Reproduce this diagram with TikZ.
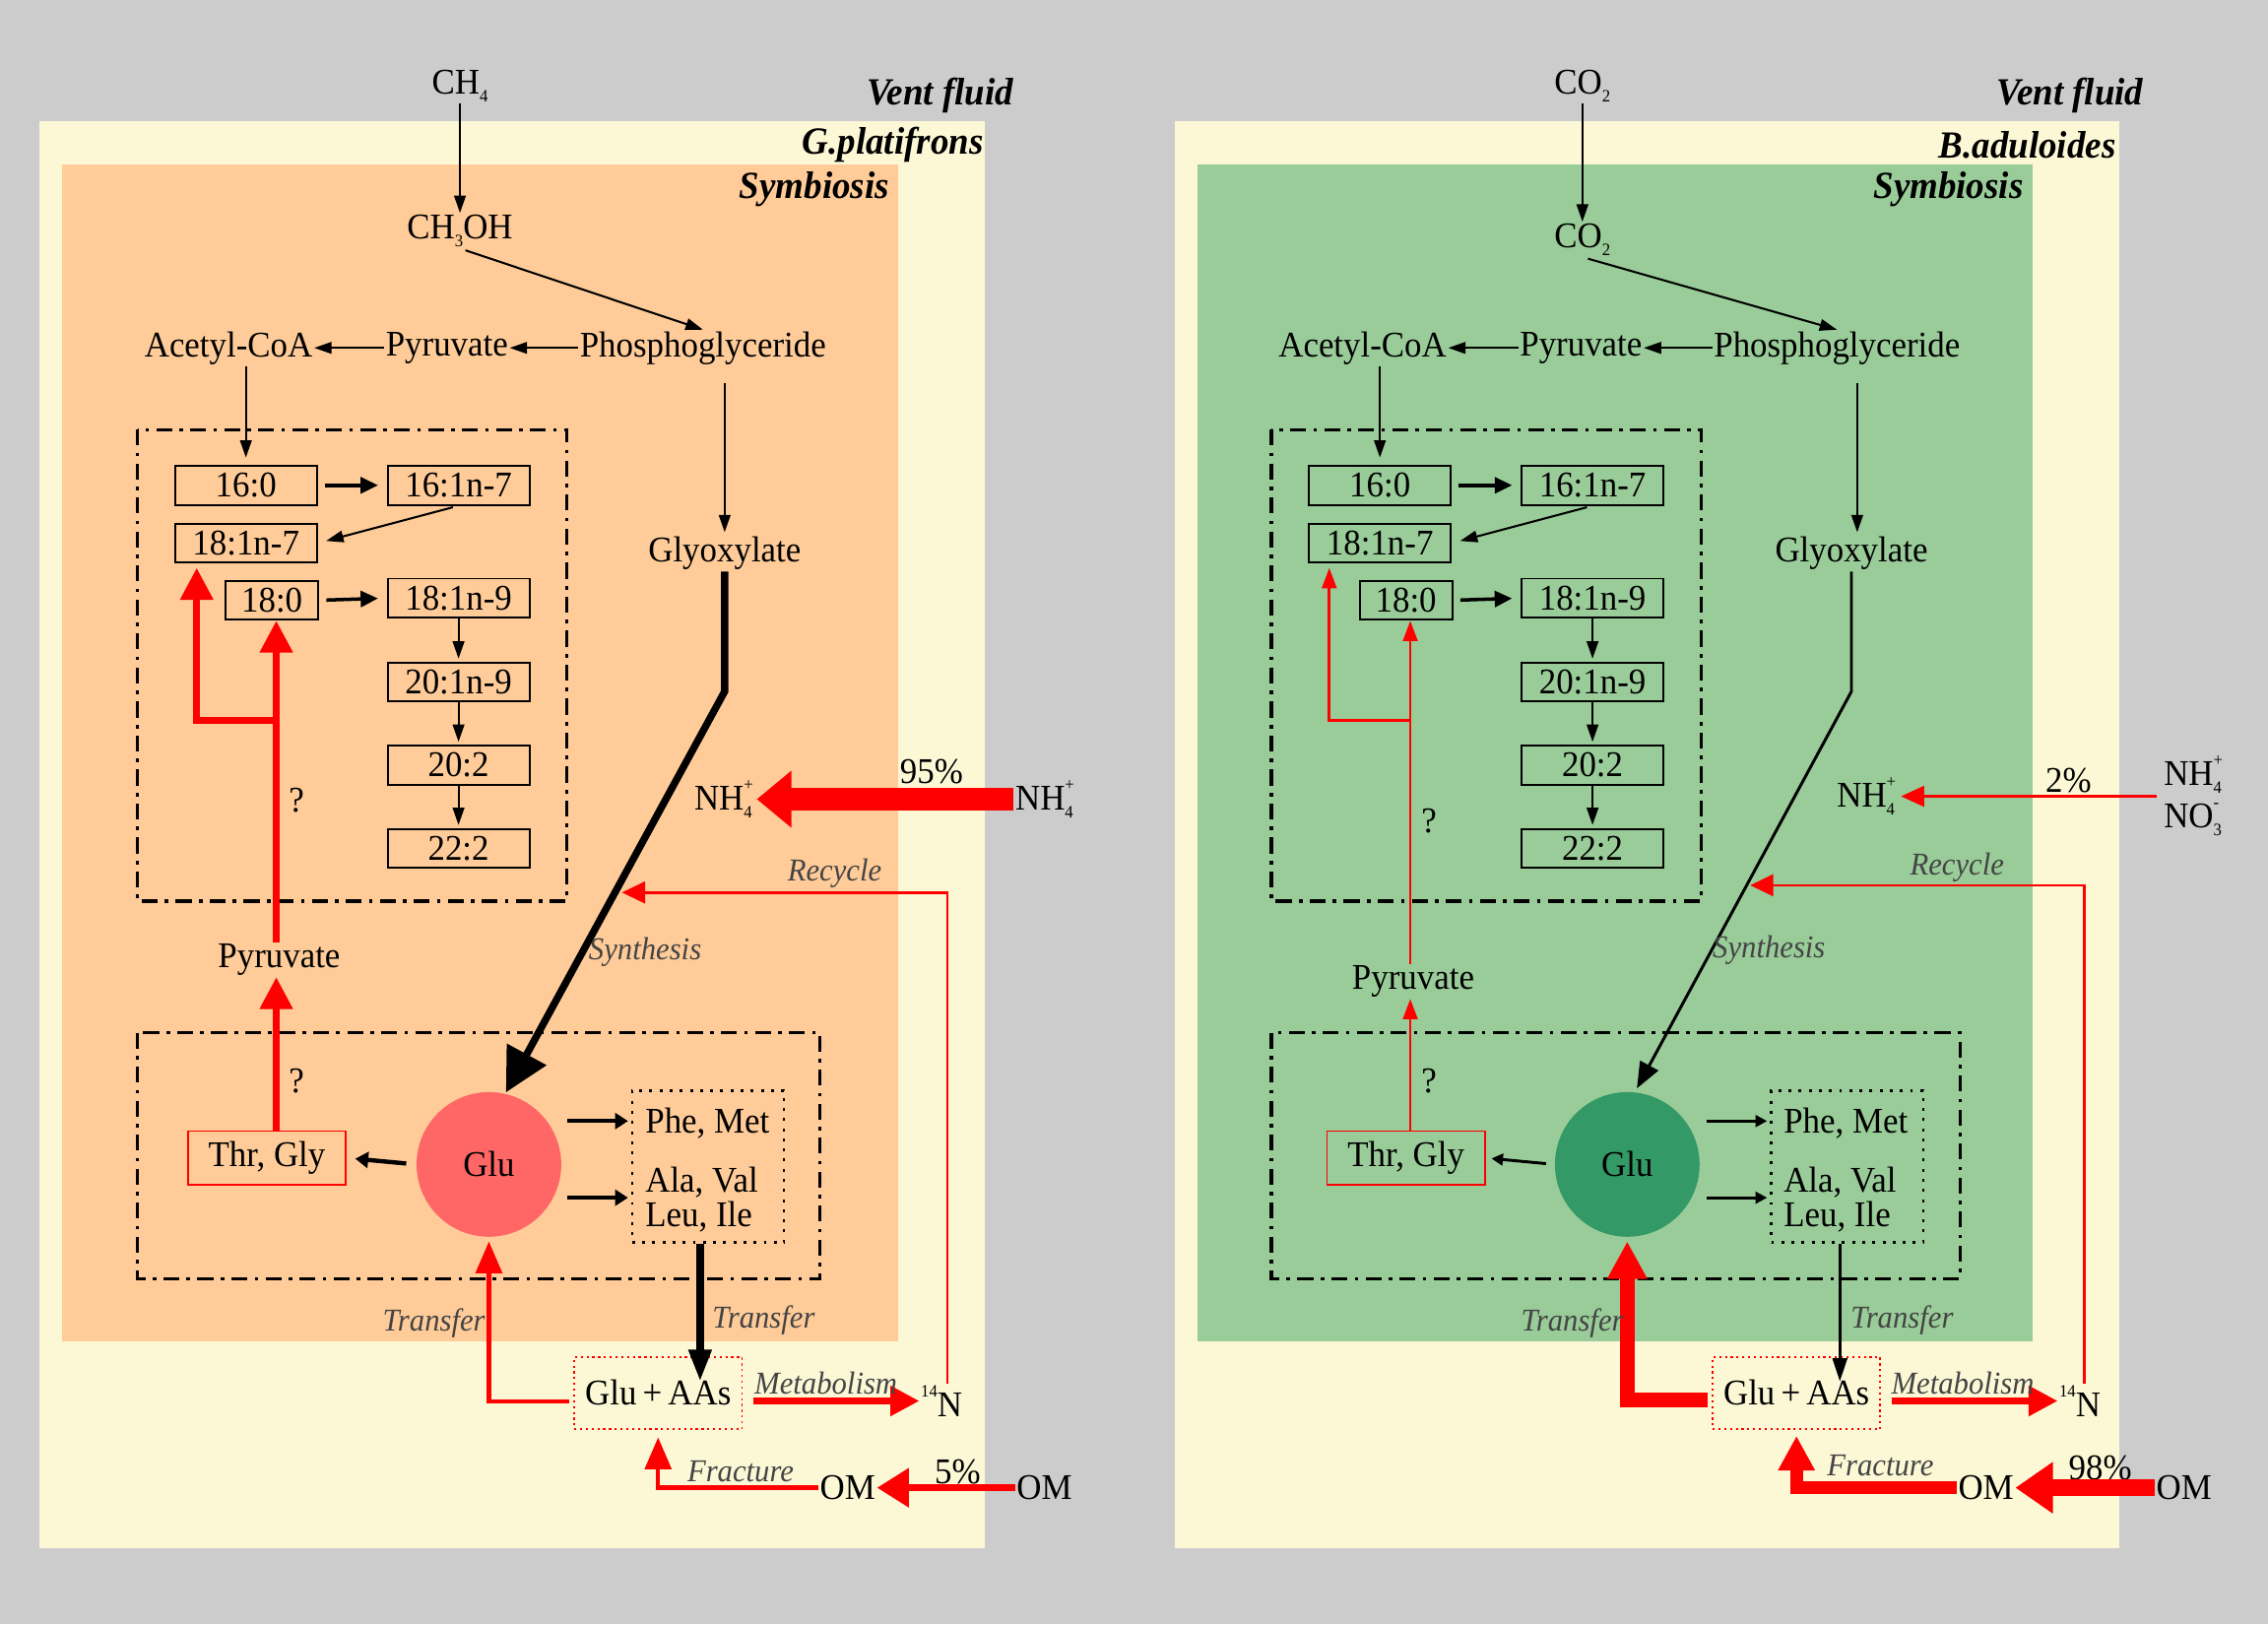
\documentclass[tikz,border=0pt]{standalone}
\usepackage{fontspec}
\setmainfont{Liberation Serif}[FakeStretch=0.95]
\usetikzlibrary{arrows.meta,calc}
\definecolor{bggray}{HTML}{CCCCCC}
\definecolor{cream}{HTML}{FCF8D6}
\definecolor{peach}{HTML}{FFCC99}
\definecolor{lgreen}{HTML}{99CC99}
\definecolor{glured}{HTML}{FF6666}
\definecolor{glugreen}{HTML}{339966}
\definecolor{lblgray}{HTML}{444444}
\definecolor{pure}{HTML}{FF0000}
\newcommand\lsub[1]{\raisebox{-0.22em}{\fontsize{12}{12}\selectfont #1}}
\newcommand\lsup[1]{\raisebox{0.55em}{\fontsize{12}{12}\selectfont #1}}
\newcommand\nhfour{NH\rlap{\lsup{+}}\lsub{4}}
\tikzset{
  tfont/.style={font=\fontsize{25}{27}\selectfont, inner sep=1pt},
  txt/.style={tfont, yshift=-2.5pt},
  lbl/.style={font=\fontsize{22}{24}\selectfont\itshape, text=lblgray, inner sep=0pt},
  ttl/.style={font=\fontsize{26.5}{28}\selectfont\bfseries\itshape, anchor=east, inner sep=0pt},
  fabox/.style={draw, line width=1.3pt, minimum width=98pt, minimum height=27pt, inner sep=0pt, tfont},
  blk/.style={line width=1.4pt, -{Triangle[length=12pt,width=8pt]}},
  blkm/.style={line width=2.4pt, -{Triangle[length=12pt,width=11pt]}},
  ddbox/.style={line width=2.2pt, dash pattern=on 11pt off 5pt on 2.5pt off 5pt},
  thr/.style={draw=pure, line width=1.2pt, minimum width=109pt, minimum height=37pt, inner sep=0pt, tfont},
  gab/.style={draw=pure, line width=1.3pt, dash pattern=on 1.5pt off 2.5pt, minimum width=116pt, minimum height=50pt, inner sep=0pt, tfont},
  aab/.style={draw, line width=1.6pt, dash pattern=on 2pt off 5pt, minimum width=105pt, minimum height=105pt},
  glu/.style={circle, minimum size=100pt, inner sep=0pt, tfont},
}
\begin{document}
\begin{tikzpicture}[x=1pt,y=-1pt]
\fill[bggray] (0,0) rectangle (1568,1123);
\useasboundingbox (0,0) rectangle (1568,1123);
%================ LEFT PANEL =================
\fill[cream] (27,84) rectangle (681,1070);
\fill[peach] (43,114) rectangle (621,927);
\node[ttl] (vf1) at (701,66) {Vent fluid};
\node[ttl] (sp1) at (680,100) {G.platifrons};
\node[ttl] (sy1) at (615,131) {Symbiosis};
\node[txt] (ch4) at (318,57) {CH\lsub{4}};
\node[txt] (ch3oh) at (318,157) {CH\lsub{3}OH};
\node[txt] (acl) at (158,238) {Acetyl-CoA};
\node[txt] (pyl) at (309,238) {Pyruvate};
\node[txt] (phl) at (486,238) {Phosphoglyceride};
\node[txt] (gyl) at (501,380) {Glyoxylate};
\draw[blk] (ch4) -- (ch3oh);
\draw[blk, shorten <=4pt] (ch3oh.south) -- (phl.north);
\draw[blk] (pyl.west) -- (acl.east);
\draw[blk] (phl.west) -- (pyl.east);
\draw[ddbox] (95,297) rectangle (392,623);
\node[fabox] (b160a) at (170,335.5) {16:0};
\node[fabox] (b161a) at (317,335.5) {16:1n-7};
\node[fabox] (b187a) at (170,375.5) {18:1n-7};
\node[fabox, minimum width=64pt] (b180a) at (188,415) {18:0};
\node[fabox] (b189a) at (317,413.5) {18:1n-9};
\node[fabox] (b201a) at (317,471.5) {20:1n-9};
\node[fabox] (b202a) at (317,529) {20:2};
\node[fabox] (b222a) at (317,586.5) {22:2};
\draw[blk, shorten >=5pt] (b160a.north |- acl.south) -- (b160a.north);
\draw[blk, shorten <=12pt, shorten >=2pt] (gyl.north |- phl.south) -- (gyl.north);
\draw[blkm, shorten <=5pt, shorten >=6pt] (b160a.east) -- (b161a.west);
\draw[blk, shorten <=4pt, shorten >=6pt] (b161a.south) -- (b187a.east);
\draw[blkm, shorten <=5pt, shorten >=6pt] (b180a.east) -- (b189a.west);
\draw[blk, shorten >=2pt] (b189a.south) -- (b201a.north);
\draw[blk, shorten >=2pt] (b201a.south) -- (b202a.north);
\draw[blk, shorten >=2pt] (b202a.south) -- (b222a.north);
% lower group
\draw[ddbox] (95,714) rectangle (567,884);
\node[glu, fill=glured] (glu1) at (338,805) {Glu};
\node[thr] (tg1) at (184.5,800.5) {Thr, Gly};
\node[aab] (aa1) at (489.5,806.5) {};
\node[txt, anchor=west] (pm1) at (445,774) {Phe, Met};
\node[txt, anchor=west] (av1) at (445,815) {Ala, Val};
\node[txt, anchor=west] (li1) at (445,839) {Leu, Ile};
\draw[line width=3pt, -{Triangle[length=9pt,width=11pt]}, shorten <=7pt, shorten >=6pt] (glu1.west) -- (tg1.east);
\draw[line width=3pt, -{Triangle[length=9pt,width=11pt]}] ($(glu1.east)+(4,-30)$) -- ($(aa1.west)+(-2,-31.5)$);
\draw[line width=3pt, -{Triangle[length=9pt,width=11pt]}] ($(glu1.east)+(4,23)$) -- ($(aa1.west)+(-2,21.5)$);
\node[txt] (pyr1) at (193,661) {Pyruvate};
\node[txt] (q1a) at (205,551) {?};
\node[txt] (q1b) at (205,745) {?};
\coordinate (br1) at (191,498);
\coordinate (br2) at (136,498);
\draw[pure, line width=4.5pt, -{Triangle[length=22pt,width=22pt]}] (br1 |- pyr1.north) -- (br1 |- b180a.south);
\draw[pure, line width=4.5pt, -{Triangle[length=22pt,width=22pt]}, shorten >=3pt] (br1) -- (br2) -- (br2 |- b187a.south);
\draw[pure, line width=4.5pt, -{Triangle[length=22pt,width=22pt]}] (br1 |- tg1.north) -- (br1 |- pyr1.south);
% synthesis
\coordinate (sb1) at (501,478);
\draw[line width=5pt, -{Triangle[length=30pt,width=30pt]}, shorten >=1pt] (gyl.south) -- (sb1) -- (glu1.77);
\node[lbl] (syn1) at (446,658) {Synthesis};
% NH4
\node[txt] (nh1) at (500,550) {\nhfour};
\node[txt] (nh1o) at (722,550) {\nhfour};
\node[txt] (p95) at (644,531) {95\%};
\draw[pure, line width=15pt, -{Triangle[length=24pt,width=38pt]}, shorten >=2pt] (nh1o.west) -- (nh1.east);
% glu+aas
\node[gab] (ga1) at (455,963) {Glu\,+\,AAs};
\node[txt] (n14a) at (651,966) {\lsup{14}N};
\node[txt] (om1) at (586,1026) {OM};
\node[txt] (om1o) at (722,1026) {OM};
\node[txt] (p5) at (662,1015) {5\%};
\coordinate (t1) at (484,955);
\draw[line width=5pt, -{Triangle[length=22pt,width=15pt]}] (aa1.south -| t1) -- (t1);
\draw[pure, line width=3pt, -{Triangle[length=22pt,width=18pt]}, shorten >=3pt] ($(ga1.west)+(-3,6)$) -| (glu1.south);
\draw[pure, line width=4.5pt, -{Triangle[length=20pt,width=20pt]}, shorten <=7pt] (ga1.east |- n14a) -- (n14a.west);
\draw[pure, line width=5pt, -{Triangle[length=22pt,width=26pt]}] (om1o.west) -- (om1.east);
\draw[pure, line width=3pt, -{Triangle[length=22pt,width=18pt]}, shorten >=5pt] (om1.west) -| (ga1.south);
\coordinate (rc1) at (655,617);
\coordinate (rce1) at (430,617);
\draw[pure, line width=1.8pt, -{Triangle[length=16pt,width=15pt]}] (rc1 |- n14a.north) -- (rc1) -- (rce1);
\node[lbl] (rcl1) at (577,604) {Recycle};
\node[lbl] (mt1) at (571,956.5) {Metabolism};
\node[lbl] (fr1) at (512,1017) {Fracture};
\node[lbl] (tr1a) at (300,915) {Transfer};
\node[lbl] (tr1b) at (528,913) {Transfer};
%================ RIGHT PANEL =================
\fill[cream] (812,84) rectangle (1465,1070);
\fill[lgreen] (828,114) rectangle (1405,927);
\node[ttl] (vf2) at (1482,66) {Vent fluid};
\node[ttl] (sp2) at (1463,100) {B.aduloides};
\node[ttl] (sy2) at (1399,131) {Symbiosis};
\node[txt] (co2a) at (1094,57) {CO\lsub{2}};
\node[txt] (co2b) at (1094,163) {CO\lsub{2}};
\node[txt] (ac2) at (942,238) {Acetyl-CoA};
\node[txt] (py2) at (1093,238) {Pyruvate};
\node[txt] (ph2) at (1270,238) {Phosphoglyceride};
\node[txt] (gy2) at (1280,380) {Glyoxylate};
\draw[blk] (co2a) -- (co2b);
\draw[blk, shorten <=4pt] (co2b.south) -- (ph2.north);
\draw[blk] (py2.west) -- (ac2.east);
\draw[blk] (ph2.west) -- (py2.east);
\draw[ddbox] (879,297) rectangle (1176,623);
\node[fabox] (b160b) at (954,335.5) {16:0};
\node[fabox] (b161b) at (1101,335.5) {16:1n-7};
\node[fabox] (b187b) at (954,375.5) {18:1n-7};
\node[fabox, minimum width=64pt] (b180b) at (972,415) {18:0};
\node[fabox] (b189b) at (1101,413.5) {18:1n-9};
\node[fabox] (b201b) at (1101,471.5) {20:1n-9};
\node[fabox] (b202b) at (1101,529) {20:2};
\node[fabox] (b222b) at (1101,586.5) {22:2};
\draw[blk, shorten >=5pt] (b160b.north |- ac2.south) -- (b160b.north);
\coordinate (gx2) at (1284,300);
\draw[blk, shorten <=12pt, shorten >=2pt] (gx2 |- ph2.south) -- (gx2 |- gy2.north);
\draw[blkm, shorten <=5pt, shorten >=6pt] (b160b.east) -- (b161b.west);
\draw[blk, shorten <=4pt, shorten >=6pt] (b161b.south) -- (b187b.east);
\draw[blkm, shorten <=5pt, shorten >=6pt] (b180b.east) -- (b189b.west);
\draw[blk, shorten >=2pt] (b189b.south) -- (b201b.north);
\draw[blk, shorten >=2pt] (b201b.south) -- (b202b.north);
\draw[blk, shorten >=2pt] (b202b.south) -- (b222b.north);
\draw[ddbox] (879,714) rectangle (1355,884);
\node[glu, fill=glugreen] (glu2) at (1125,805) {Glu};
\node[thr] (tg2) at (972,800.5) {Thr, Gly};
\node[aab] (aa2) at (1277,806.5) {};
\node[txt, anchor=west] (pm2) at (1232,774) {Phe, Met};
\node[txt, anchor=west] (av2) at (1232,815) {Ala, Val};
\node[txt, anchor=west] (li2) at (1232,839) {Leu, Ile};
\draw[line width=2pt, -{Triangle[length=8pt,width=8pt]}, shorten <=6pt, shorten >=4pt] (glu2.west) -- (tg2.east);
\draw[line width=2pt, -{Triangle[length=8pt,width=8pt]}] ($(glu2.east)+(5,-30)$) -- ($(aa2.west)+(-2,-31.5)$);
\draw[line width=2pt, -{Triangle[length=8pt,width=8pt]}] ($(glu2.east)+(5,23)$) -- ($(aa2.west)+(-2,21.5)$);
\node[txt] (pyr2) at (977,676) {Pyruvate};
\node[txt] (q2a) at (988,565) {?};
\node[txt] (q2b) at (988,745) {?};
\coordinate (br3) at (975,498);
\coordinate (br4) at (919,498);
\draw[pure, line width=1.8pt, -{Triangle[length=14pt,width=10pt]}] (br3 |- pyr2.north) -- (br3 |- b180b.south);
\draw[pure, line width=1.8pt, -{Triangle[length=14pt,width=10pt]}, shorten >=3pt] (br3) -- (br4) -- (br4 |- b187b.south);
\draw[pure, line width=1.8pt, -{Triangle[length=14pt,width=10pt]}] (br3 |- tg2.north) -- (br3 |- pyr2.south);
\coordinate (sb2) at (1280,478);
\draw[line width=2pt, -{Triangle[length=18pt,width=14pt]}, shorten >=3pt] (gy2.south) -- (sb2) -- (glu2.84);
\node[lbl] (syn2) at (1223,657) {Synthesis};
\node[txt] (nh2) at (1290,548) {\nhfour};
\node[txt] (nh2o) at (1516,533) {\nhfour};
\node[txt] (no3) at (1516,564) {NO\rlap{\lsup{-}}\lsub{3}};
\node[txt] (p2) at (1430,537) {2\%};
\coordinate (nin2) at (1491,550.5);
\draw[pure, line width=2.2pt, -{Triangle[length=16pt,width=14pt]}, shorten >=3pt] (nin2) -- (nh2.east);
\node[gab] (ga2) at (1242,963) {Glu\,+\,AAs};
\node[txt] (n14b) at (1438,966) {\lsup{14}N};
\node[txt] (om2) at (1373,1026) {OM};
\node[txt] (om2o) at (1510,1026) {OM};
\node[txt] (p98) at (1452,1012) {98\%};
\coordinate (t2) at (1272,955);
\draw[line width=2pt, -{Triangle[length=16pt,width=10pt]}] (aa2.south -| t2) -- (t2);
\draw[pure, line width=10pt, -{Triangle[length=26pt,width=26pt]}, shorten >=3pt] ($(ga2.west)+(-3,5)$) -| (glu2.south);
\draw[pure, line width=4.5pt, -{Triangle[length=20pt,width=20pt]}, shorten <=7pt] (ga2.east |- n14b) -- (n14b.west);
\draw[pure, line width=12pt, -{Triangle[length=26pt,width=34pt]}] (om2o.west) -- (om2.east);
\draw[pure, line width=9pt, -{Triangle[length=24pt,width=24pt]}, shorten >=4pt] (om2.west) -| (ga2.south);
\coordinate (rc2) at (1441,612);
\coordinate (rce2) at (1210,612);
\draw[pure, line width=1.8pt, -{Triangle[length=16pt,width=15pt]}] (rc2 |- n14b.north) -- (rc2) -- (rce2);
\node[lbl] (rcl2) at (1353,600) {Recycle};
\node[lbl] (mt2) at (1357,956.5) {Metabolism};
\node[lbl] (fr2) at (1300,1013) {Fracture};
\node[lbl] (tr2a) at (1087,915) {Transfer};
\node[lbl] (tr2b) at (1315,913) {Transfer};
\end{tikzpicture}
\end{document}
